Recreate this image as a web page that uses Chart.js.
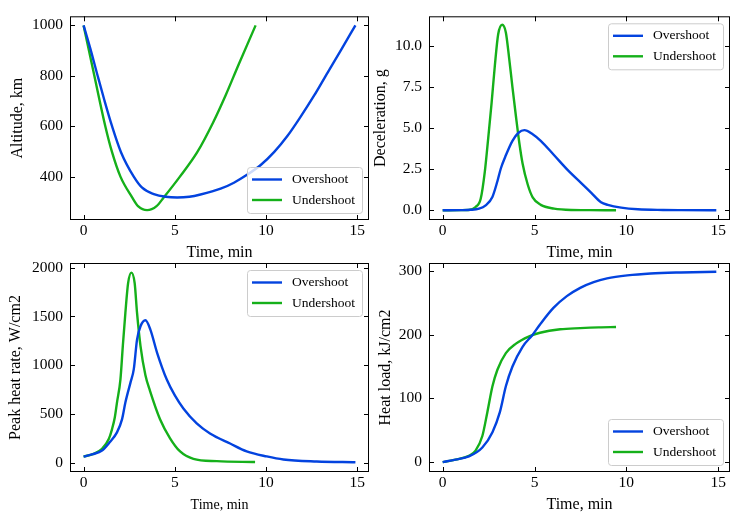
<!DOCTYPE html>
<html>
<head>
<meta charset="utf-8">
<script src="https://cdn.jsdelivr.net/npm/chart.js@4/dist/chart.umd.min.js"></script>
<style>
html, body { margin: 0; padding: 0; background: #fff; }
#wrap { position: relative; width: 738px; height: 524px; }
#wrap canvas { position: absolute; left: 0; top: 0; }
</style>
</head>
<body>
<div id="wrap">
  <canvas id="altChart" width="738" height="524"></canvas>
  <canvas id="decChart" width="738" height="524"></canvas>
  <canvas id="rateChart" width="738" height="524"></canvas>
  <canvas id="loadChart" width="738" height="524"></canvas>
</div>
<script>
// series names + tick values
const seriesNames = ['Overshoot', 'Undershoot'];
const timeTicks = [0, 5, 10, 15];
const altTicks = [400, 600, 800, 1000];
const decTicks = [0, 2.5, 5, 7.5, 10];
const rateTicks = [0, 500, 1000, 1500, 2000];
const loadTicks = [0, 100, 200, 300];

// altitude, km
const altOverTime = [0, 0.37, 0.77, 1.14, 1.56, 2.05, 2.75, 3.21, 3.85, 4.5, 5.13, 5.8, 6.41, 7.51, 8.24, 8.98, 9.71, 10.44, 11.18, 11.9, 12.64, 13.37, 14.1, 14.9];
const altOver = [1000, 908, 800, 703, 600, 497, 400, 356, 331, 320, 317, 320, 329, 352, 376, 408, 446, 497, 562, 638, 722, 812, 901, 1000];
const altUnderTime = [0, 0.59, 1.19, 1.56, 2.02, 2.66, 3.0, 3.48, 4.0, 4.4, 5.28, 6.23, 7.1, 7.8, 8.5, 9.43];
const altUnder = [1000, 800, 600, 497, 400, 318, 282, 267, 283, 318, 400, 497, 615, 725, 845, 1000];

// deceleration, g
const decOverTime = [0, 1.0, 1.5, 1.98, 2.34, 2.7, 2.98, 3.17, 3.44, 3.8, 4.13, 4.45, 4.9, 5.34, 6.07, 6.8, 7.53, 8.08, 8.62, 8.99, 9.72, 10.63, 12, 13, 14.9];
const decOver = [0, 0.01, 0.03, 0.1, 0.3, 0.79, 1.77, 2.56, 3.35, 4.23, 4.72, 4.88, 4.63, 4.23, 3.35, 2.46, 1.67, 1.08, 0.49, 0.33, 0.16, 0.06, 0.02, 0.01, 0];
const decUnderTime = [0, 1.0, 1.43, 1.79, 2.07, 2.3, 2.48, 2.66, 2.84, 3.02, 3.24, 3.44, 3.62, 3.8, 3.99, 4.17, 4.35, 4.63, 4.9, 5.34, 6.07, 7, 8, 9.44];
const decUnder = [0, 0.01, 0.02, 0.2, 0.7, 2.4, 4.4, 6.5, 8.8, 10.7, 11.3, 10.83, 9.25, 7.48, 5.71, 4.13, 2.85, 1.57, 0.79, 0.33, 0.1, 0.02, 0.01, 0];

// peak heat rate, W/cm2
const rateOverTime = [0, 0.5, 1.01, 1.43, 1.83, 2.11, 2.29, 2.57, 2.75, 2.93, 3.12, 3.39, 3.66, 4.03, 4.56, 5.01, 5.47, 6.2, 6.93, 8.03, 8.94, 10.04, 10.95, 12.78, 14.9];
const rateOver = [68, 92, 129, 214, 315, 451, 620, 824, 959, 1264, 1400, 1461, 1366, 1129, 855, 690, 560, 407, 304, 201, 121, 69, 38, 18, 10];
const rateUnderTime = [0, 0.55, 1.01, 1.38, 1.56, 1.71, 1.83, 2.02, 2.15, 2.29, 2.44, 2.62, 2.8, 2.93, 3.12, 3.39, 3.64, 4.19, 4.74, 5.29, 6.02, 7.3, 9.4];
const rateUnder = [68, 95, 146, 247, 349, 468, 620, 858, 1197, 1536, 1841, 1949, 1841, 1536, 1197, 900, 740, 450, 255, 120, 45, 21, 12];

// heat load, kJ/cm2
const loadOverTime = [0, 0.7, 1.43, 2.16, 2.71, 3.11, 3.44, 3.8, 4.35, 4.9, 5.3, 6.03, 6.76, 7.49, 8.22, 8.95, 10.05, 11.32, 12.97, 14.9];
const loadOver = [0, 4, 9, 23, 47, 78, 119, 150, 181, 200, 216, 242, 260.5, 273.5, 282.5, 288.3, 293, 296, 297.7, 298.8];
const loadUnderTime = [0, 0.7, 1.43, 1.79, 2.16, 2.43, 2.71, 2.98, 3.44, 3.99, 4.68, 5.3, 6.4, 7.49, 8.5, 9.44];
const loadUnder = [0, 4, 10, 18, 41, 78, 119, 145, 171, 186, 197, 203, 208.5, 210.3, 211.5, 212];

const blue = '#0343df';
const green = '#15b01a';
const serif = '"Liberation Serif", "Times New Roman", serif';

function toPoints(xs, ys) {
    return xs.map((x, i) => ({ x: x, y: ys[i] }));
}

// frame, inward ticks on all four sides, and the legend box
const framePlugin = {
    id: 'panelFrame',
    afterDraw(chart, args, opts) {
        const ctx = chart.ctx;
        const a = chart.chartArea;
        const sx = chart.scales.x, sy = chart.scales.y;
        ctx.save();
        ctx.strokeStyle = '#000';
        ctx.lineWidth = 1;
        ctx.beginPath();
        sx.ticks.forEach(t => {
            const p = Math.round(sx.getPixelForValue(t.value)) + 0.5;
            ctx.moveTo(p, a.bottom); ctx.lineTo(p, a.bottom - 5);
            ctx.moveTo(p, a.top); ctx.lineTo(p, a.top + 5);
        });
        sy.ticks.forEach(t => {
            const p = Math.round(sy.getPixelForValue(t.value)) + 0.5;
            ctx.moveTo(a.left, p); ctx.lineTo(a.left + 5, p);
            ctx.moveTo(a.right, p); ctx.lineTo(a.right - 5, p);
        });
        ctx.stroke();
        ctx.strokeRect(a.left + 0.5, a.top + 0.5, a.right - a.left - 1, a.bottom - a.top - 1);

        // legend
        const w = 115, h = 46, m = 7;
        const bx = a.right - m - w;
        const by = opts.corner === 'top' ? a.top + m : a.bottom - m - h;
        ctx.fillStyle = 'rgba(255,255,255,0.8)';
        ctx.strokeStyle = '#cccccc';
        ctx.beginPath();
        ctx.roundRect(bx + 0.5, by + 0.5, w, h, 3);
        ctx.fill();
        ctx.stroke();
        ctx.font = '13.5px ' + serif;
        ctx.textBaseline = 'middle';
        chart.data.datasets.forEach((ds, i) => {
            const ry = by + 12.5 + i * 20.5;
            ctx.strokeStyle = ds.borderColor;
            ctx.lineWidth = 2.4;
            ctx.beginPath();
            ctx.moveTo(bx + 5, ry);
            ctx.lineTo(bx + 35, ry);
            ctx.stroke();
            ctx.fillStyle = '#000';
            ctx.fillText(ds.label, bx + 45, ry);
        });
        ctx.restore();
    }
};

function makePanel(id, p) {
    const datasets = [
        { label: seriesNames[0], data: toPoints(p.t1, p.v1), borderColor: blue },
        { label: seriesNames[1], data: toPoints(p.t2, p.v2), borderColor: green }
    ].map(d => Object.assign(d, {
        showLine: true, pointRadius: 0, borderWidth: 2.4,
        cubicInterpolationMode: 'monotone', fill: false
    }));

    new Chart(document.getElementById(id), {
        type: 'scatter',
        data: { datasets: datasets },
        options: {
            responsive: false,
            animation: false,
            devicePixelRatio: 1,
            events: [],
            layout: {
                autoPadding: false,
                padding: { left: p.cellLeft, top: p.top, right: 738 - p.right, bottom: 524 - p.cellBottom }
            },
            plugins: {
                legend: { display: false },
                tooltip: { enabled: false },
                panelFrame: { corner: p.legend }
            },
            scales: {
                x: {
                    type: 'linear',
                    position: 'bottom',
                    min: -0.745,
                    max: 15.645,
                    afterBuildTicks: s => { s.ticks = timeTicks.map(v => ({ value: v })); },
                    afterFit: s => { s.height = p.cellBottom - p.bottom; },
                    grid: { display: false, drawTicks: false },
                    border: { display: false },
                    ticks: { color: '#000', padding: 2, font: { family: serif, size: 15.5 }, callback: v => String(v) },
                    title: {
                        display: true, text: 'Time, min', color: '#000',
                        font: { family: serif, size: p.xTitleSize },
                        padding: { top: 0, bottom: p.xTitlePad }
                    }
                },
                y: {
                    type: 'linear',
                    position: 'left',
                    min: p.yMin,
                    max: p.yMax,
                    afterBuildTicks: s => { s.ticks = p.yTicks.map(v => ({ value: v })); },
                    afterFit: s => { s.width = p.left - p.cellLeft; },
                    grid: { display: false, drawTicks: false },
                    border: { display: false },
                    ticks: { color: '#000', padding: 7, font: { family: serif, size: 15.5 }, callback: v => v.toFixed(p.decimals) },
                    title: {
                        display: true, text: p.yTitle, color: '#000',
                        font: { family: serif, size: 16 },
                        padding: { top: p.yTitlePad, bottom: 0 }
                    }
                }
            }
        },
        plugins: [framePlugin]
    });
}

makePanel('altChart', {
    t1: altOverTime, v1: altOver, t2: altUnderTime, v2: altUnder,
    cellLeft: 0, cellBottom: 262, left: 70, right: 369, top: 10, bottom: 220,
    yMin: 228, yMax: 1036, yTicks: altTicks, decimals: 0,
    yTitle: 'Altitude, km', yTitlePad: 7.9, xTitleSize: 16, xTitlePad: 0,
    legend: 'bottom'
});

makePanel('decChart', {
    t1: decOverTime, v1: decOver, t2: decUnderTime, v2: decUnder,
    cellLeft: 369, cellBottom: 262, left: 429, right: 730, top: 10, bottom: 220,
    yMin: -0.59, yMax: 11.81, yTicks: decTicks, decimals: 1,
    yTitle: 'Deceleration, g', yTitlePad: 2.4, xTitleSize: 16, xTitlePad: 0,
    legend: 'top'
});

makePanel('rateChart', {
    t1: rateOverTime, v1: rateOver, t2: rateUnderTime, v2: rateUnder,
    cellLeft: 0, cellBottom: 524, left: 70, right: 369, top: 263, bottom: 472,
    yMin: -90, yMax: 2047, yTicks: rateTicks, decimals: 0,
    yTitle: 'Peak heat rate, W/cm2', yTitlePad: 6.4, xTitleSize: 14, xTitlePad: 10.6,
    legend: 'top'
});

makePanel('loadChart', {
    t1: loadOverTime, v1: loadOver, t2: loadUnderTime, v2: loadUnder,
    cellLeft: 369, cellBottom: 524, left: 429, right: 730, top: 263, bottom: 472,
    yMin: -15.5, yMax: 312.5, yTicks: loadTicks, decimals: 0,
    yTitle: 'Heat load, kJ/cm2', yTitlePad: 6.9, xTitleSize: 16, xTitlePad: 9.4,
    legend: 'bottom'
});
</script>
</body>
</html>
